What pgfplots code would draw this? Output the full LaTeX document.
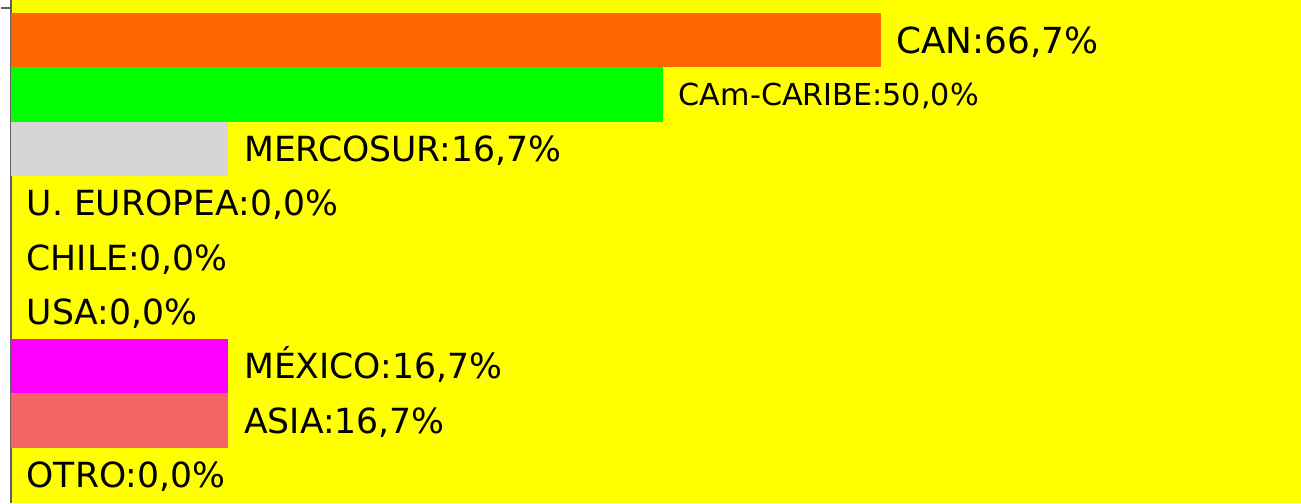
\documentclass[border=0pt]{standalone}
\usepackage{fontspec}
\setmainfont{DejaVu Sans}
\usepackage{pgfplots}
\pgfplotsset{compat=1.18}
\usetikzlibrary{calc}
\definecolor{bgyellow}{HTML}{FFFF00}
\definecolor{canorange}{HTML}{FF6600}
\definecolor{camgreen}{HTML}{00FF00}
\definecolor{mercgray}{HTML}{D6D6D6}
\definecolor{mexmagenta}{HTML}{FF00FF}
\definecolor{asiared}{HTML}{F46464}
\definecolor{axisgray}{HTML}{606060}

% label sizes (CAN is set a bit larger, CAm-CARIBE smaller)
\newcommand\lblN{\fontsize{9.85pt}{11pt}\selectfont}
\newcommand\lblB{\fontsize{10.2pt}{12pt}\selectfont}
\newcommand\lblS{\fontsize{8.6pt}{10pt}\selectfont}

\pgfplotsset{
  lbl/.style 2 args={
    nodes near coords={#2},
    every node near coord/.append style={
      anchor=west, inner sep=0pt, xshift=0.15cm, text=black,
      font=#1, text depth=0pt}
  },
}

\begin{document}
\begin{tikzpicture}
\begin{axis}[
  xbar,
  scale only axis,
  width=12.90cm,
  height=5.03cm,
  xmin=0, xmax=98.9,
  ymin=-0.515, ymax=8.736,
  bar width=1,
  bar shift=0pt,
  axis background/.style={fill=bgyellow},
  axis x line=none,
  axis y line=left,
  y axis line style={-, draw=axisgray, line width=0.55pt},
  xtick=\empty,
  ytick=\empty,
  extra y ticks={8.596},
  extra y tick labels={},
  extra y tick style={tick align=outside, major tick length=0.1cm,
    tick style={draw=axisgray, line width=0.55pt}},
  clip=false,
]
\addplot[fill=canorange, draw=none, lbl={\lblB}{CAN:66,7\%},
  every node near coord/.append style={text height=7.44pt}]
  coordinates {(66.67,8)};
\addplot[fill=camgreen, draw=none, lbl={\lblS}{CAm-CARIBE:50,0\%},
  every node near coord/.append style={text height=6.27pt}]
  coordinates {(50.0,7)};
\addplot[fill=mercgray, draw=none, lbl={\lblN}{MERCOSUR:16,7\%},
  every node near coord/.append style={text height=7.18pt}]
  coordinates {(16.67,6)};
\addplot[fill=none, draw=none, lbl={\lblN}{U. EUROPEA:0,0\%},
  every node near coord/.append style={text height=7.18pt}]
  coordinates {(0,5)};
\addplot[fill=none, draw=none, lbl={\lblN}{CHILE:0,0\%},
  every node near coord/.append style={text height=7.18pt}]
  coordinates {(0,4)};
\addplot[fill=none, draw=none, lbl={\lblN}{USA:0,0\%},
  every node near coord/.append style={text height=7.18pt}]
  coordinates {(0,3)};
\addplot[fill=mexmagenta, draw=none, lbl={\lblN}{MÉXICO:16,7\%},
  every node near coord/.append style={text height=7.18pt}]
  coordinates {(16.67,2)};
\addplot[fill=asiared, draw=none, lbl={\lblN}{ASIA:16,7\%},
  every node near coord/.append style={text height=7.18pt}]
  coordinates {(16.67,1)};
\addplot[fill=none, draw=none, lbl={\lblN}{OTRO:0,0\%},
  every node near coord/.append style={text height=7.18pt}]
  coordinates {(0,0)};
\end{axis}
\pgfresetboundingbox
\path ($(current axis.south west)+(-0.11cm,0)$) rectangle (current axis.north east);
\end{tikzpicture}
\end{document}
